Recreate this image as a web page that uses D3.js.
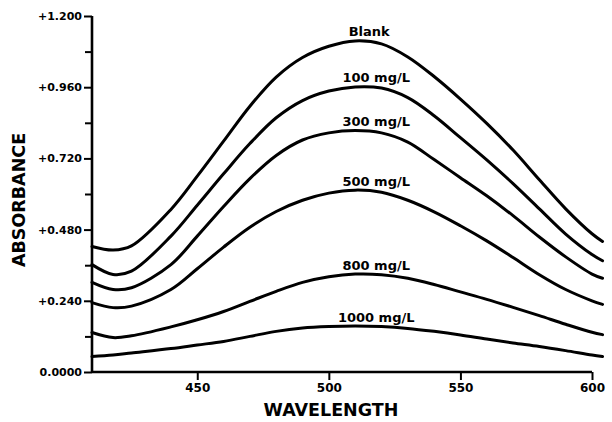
<!DOCTYPE html>
<html>
<head>
<meta charset="utf-8">
<script src="https://cdn.jsdelivr.net/npm/d3@7"></script>
<style>
  html, body { margin: 0; padding: 0; background: #fff; }
  svg { display: block; }
  text { font-family: "DejaVu Sans", sans-serif; font-weight: bold; fill: #000; }
</style>
</head>
<body>
<svg id="chart" width="612" height="422"></svg>
<script>
// ---- data ----
const wavelengths = [410, 418, 425, 440, 450, 460, 470, 480, 490, 500, 510, 520, 530, 540, 550, 560, 570, 580, 590, 600, 604];
const blank   = [0.423, 0.411, 0.425, 0.548, 0.660, 0.778, 0.896, 0.994, 1.060, 1.098, 1.116, 1.106, 1.062, 0.996, 0.920, 0.838, 0.748, 0.648, 0.550, 0.466, 0.440];
const mg100   = [0.362, 0.329, 0.340, 0.458, 0.562, 0.668, 0.770, 0.857, 0.915, 0.947, 0.961, 0.957, 0.925, 0.864, 0.790, 0.715, 0.635, 0.550, 0.465, 0.396, 0.375];
const mg300   = [0.302, 0.278, 0.284, 0.362, 0.458, 0.558, 0.652, 0.730, 0.782, 0.806, 0.814, 0.806, 0.775, 0.716, 0.655, 0.594, 0.527, 0.455, 0.388, 0.330, 0.316];
const mg500   = [0.234, 0.217, 0.222, 0.278, 0.348, 0.421, 0.488, 0.541, 0.579, 0.603, 0.613, 0.606, 0.579, 0.540, 0.493, 0.442, 0.386, 0.328, 0.278, 0.240, 0.228];
const mg800   = [0.133, 0.116, 0.122, 0.152, 0.176, 0.204, 0.238, 0.272, 0.302, 0.321, 0.330, 0.328, 0.316, 0.295, 0.270, 0.245, 0.218, 0.190, 0.161, 0.134, 0.126];
const mg1000  = [0.052, 0.057, 0.064, 0.079, 0.091, 0.103, 0.120, 0.137, 0.148, 0.153, 0.155, 0.153, 0.147, 0.137, 0.125, 0.111, 0.098, 0.086, 0.072, 0.057, 0.052];
const seriesNames = ["Blank", "100 mg/L", "300 mg/L", "500 mg/L", "800 mg/L", "1000 mg/L"];
const seriesValues = [blank, mg100, mg300, mg500, mg800, mg1000];

const xTicks = [450, 500, 550, 600];
const yMajorTicks = [0, 0.24, 0.48, 0.72, 0.96, 1.2];
const yMajorLabels = ["0.0000", "+0.240", "+0.480", "+0.720", "+0.960", "+1.200"];
const yMinorTicks = [0.12, 0.36, 0.60, 0.84, 1.08];
const labelWavelength = 518;

// ---- layout ----
const svg = d3.select("#chart");
const x = d3.scaleLinear().domain([410, 600]).range([92, 592]);
const y = d3.scaleLinear().domain([0, 1.2]).range([372, 16]);

// curves
const line = d3.line()
  .x(d => x(d[0]))
  .y(d => y(d[1]))
  .curve(d3.curveCatmullRom.alpha(0.5));

seriesValues.forEach((vals, i) => {
  const pts = wavelengths.map((w, j) => [w, vals[j]]);
  svg.append("path")
    .attr("d", line(pts))
    .attr("fill", "none")
    .attr("stroke", "#000")
    .attr("stroke-width", 3)
    .attr("stroke-linejoin", "round")
    .attr("stroke-linecap", "round");
  const peak = d3.max(vals);
  svg.append("text")
    .attr("x", x(labelWavelength) - (i === 0 ? 7 : 0))
    .attr("y", y(peak) - 4.5)
    .attr("text-anchor", "middle")
    .attr("font-size", 13)
    .text(seriesNames[i]);
});

// y axis
const yAxis = d3.axisLeft(y)
  .tickValues(yMajorTicks)
  .tickSize(8)
  .tickPadding(2)
  .tickFormat((d, i) => yMajorLabels[i]);
const gy = svg.append("g").attr("transform", `translate(${x(410)},0)`).call(yAxis);
gy.select(".domain").attr("stroke-width", 2.6).attr("d", `M0,${y(1.2)}V${y(0)}`);
gy.selectAll(".tick line").attr("stroke-width", 2);
gy.selectAll(".tick text").attr("font-size", 11).attr("font-family", "DejaVu Sans").attr("font-weight", "bold");

const gyMinor = d3.axisLeft(y).tickValues(yMinorTicks).tickSize(7).tickFormat("");
const gym = svg.append("g").attr("transform", `translate(${x(410)},0)`).call(gyMinor);
gym.select(".domain").remove();
gym.selectAll(".tick line").attr("stroke-width", 2);

// x axis
const xAxis = d3.axisBottom(x)
  .tickValues(xTicks)
  .tickSize(8)
  .tickPadding(3)
  .tickFormat(d3.format("d"));
const gx = svg.append("g").attr("transform", `translate(0,${y(0)})`).call(xAxis);
gx.select(".domain").attr("stroke-width", 2.6).attr("d", `M${x(410)},0H${x(600)}`);
gx.selectAll(".tick line").attr("stroke-width", 2);
gx.selectAll(".tick text").attr("font-size", 12).attr("font-family", "DejaVu Sans").attr("font-weight", "bold");

// axis titles
svg.append("text")
  .attr("x", 331)
  .attr("y", 416)
  .attr("text-anchor", "middle")
  .attr("font-size", 17.5)
  .text("WAVELENGTH");

svg.append("text")
  .attr("transform", "translate(25,200) rotate(-90)")
  .attr("text-anchor", "middle")
  .attr("font-size", 17.5)
  .text("ABSORBANCE");
</script>
</body>
</html>
